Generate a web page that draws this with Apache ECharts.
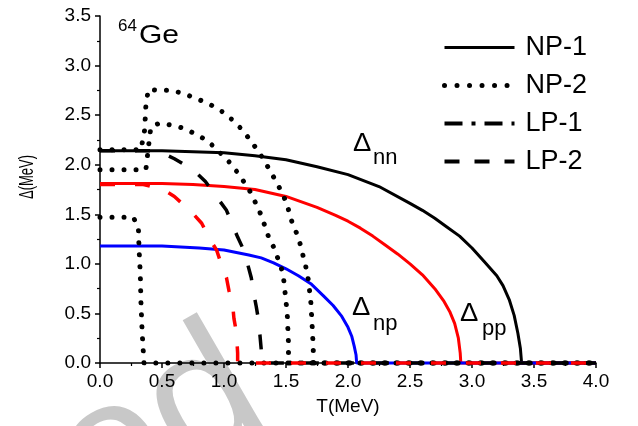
<!DOCTYPE html>
<html>
<head>
<meta charset="utf-8">
<script src="https://cdn.jsdelivr.net/npm/echarts@6/dist/echarts.min.js"></script>
<style>
  html, body { margin: 0; padding: 0; background: #fff; }
  #chart { width: 638px; height: 426px; }
</style>
</head>
<body>
<div id="chart"></div>
<script>
// Pairing gaps of 64Ge versus temperature, each point is [T (MeV), Δ (MeV)]

// NP-1: neutron-neutron, proton-proton and neutron-proton gaps
const np1Nn = [[0,2.14],[0.5,2.14],[1.0,2.12],[1.25,2.09],[1.5,2.05],[1.75,1.98],[2.0,1.90],[2.25,1.78],[2.5,1.61],[2.6,1.54],[2.7,1.46],[2.8,1.37],[2.9,1.28],[3.0,1.16],[3.1,1.02],[3.2,0.88],[3.25,0.78],[3.3,0.64],[3.34,0.48],[3.37,0.30],[3.39,0.15],[3.40,0],[4.0,0]];
const np1Pp = [[0,1.81],[0.5,1.81],[0.75,1.80],[1.0,1.78],[1.25,1.75],[1.5,1.68],[1.75,1.57],[1.9,1.49],[2.0,1.43],[2.1,1.36],[2.2,1.28],[2.3,1.19],[2.4,1.10],[2.5,1.00],[2.6,0.89],[2.7,0.75],[2.77,0.63],[2.82,0.52],[2.86,0.40],[2.89,0.25],[2.905,0.10],[2.91,0],[4.0,0]];
const np1Np = [[0,1.18],[0.5,1.18],[0.8,1.16],[1.0,1.14],[1.2,1.09],[1.3,1.06],[1.4,1.01],[1.5,0.95],[1.6,0.88],[1.7,0.80],[1.8,0.68],[1.88,0.58],[1.95,0.47],[2.0,0.36],[2.03,0.27],[2.05,0.17],[2.065,0.08],[2.07,0],[4.0,0]];

// NP-2: three gap branches
const np2Upper = [[0,2.15],[0.33,2.15],[0.36,2.35],[0.37,2.6],[0.39,2.76],[0.48,2.75],[0.57,2.75],[0.67,2.72],[0.77,2.67],[0.87,2.62],[0.97,2.55],[1.06,2.46],[1.15,2.35],[1.21,2.25],[1.28,2.13],[1.33,2.03],[1.38,1.92],[1.43,1.81],[1.47,1.71],[1.51,1.60],[1.53,1.49],[1.56,1.38],[1.60,1.27],[1.62,1.17],[1.64,1.07],[1.66,0.97],[1.68,0.84],[1.70,0.62],[1.71,0.40],[1.72,0.15],[1.72,0],[4.0,0]];
const np2Middle = [[0,1.95],[0.37,1.95],[0.39,2.17],[0.41,2.38],[0.48,2.42],[0.57,2.40],[0.67,2.37],[0.77,2.31],[0.87,2.24],[0.96,2.13],[1.04,2.03],[1.11,1.92],[1.17,1.81],[1.22,1.71],[1.26,1.60],[1.30,1.49],[1.33,1.38],[1.36,1.27],[1.40,1.17],[1.43,1.07],[1.46,0.97],[1.48,0.86],[1.49,0.74],[1.51,0.50],[1.52,0.20],[1.52,0],[4.0,0]];
const np2Lower = [[0,1.47],[0.27,1.47],[0.31,1.35],[0.315,1.15],[0.325,0.90],[0.33,0.62],[0.34,0.31],[0.35,0.10],[0.355,0],[4.0,0]];

// LP-1 and LP-2
const lp1 = [[0,2.14],[0.45,2.14],[0.5,2.12],[0.6,2.06],[0.75,1.95],[0.85,1.83],[0.95,1.66],[1.02,1.54],[1.07,1.39],[1.11,1.27],[1.17,1.11],[1.19,1.00],[1.22,0.86],[1.24,0.70],[1.26,0.57],[1.28,0.42],[1.29,0.28],[1.30,0.14],[1.31,0],[4.0,0]];
const lp2 = [[0,1.80],[0.35,1.80],[0.51,1.75],[0.6,1.68],[0.74,1.52],[0.82,1.41],[0.89,1.24],[0.94,1.14],[0.98,0.99],[1.02,0.86],[1.04,0.73],[1.07,0.59],[1.08,0.45],[1.10,0.31],[1.11,0.10],[1.11,0],[4.0,0]];

const legendNames = ['NP-1', 'NP-2', 'LP-1', 'LP-2'];

const FONT = 'Liberation Sans, Arial, sans-serif';
const DOTS = { width: 5, type: [0.01, 12], cap: 'round', color: '#000' };

function curve(name, data, lineStyle) {
  return {
    name, type: 'line', data, symbol: 'none', showSymbol: false,
    smooth: false, clip: false, silent: true,
    itemStyle: { color: lineStyle.color },
    lineStyle, emphasis: { disabled: true }
  };
}

const chart = echarts.init(document.getElementById('chart'), null, { renderer: 'canvas' });

const axisCommon = {
  type: 'value',
  axisLine: { show: true, lineStyle: { color: '#000', width: 1.5 } },
  axisTick: { show: true, inside: false, length: 5, lineStyle: { color: '#000', width: 1.5 } },
  minorTick: { show: true, splitNumber: 2, length: 3, lineStyle: { color: '#000', width: 1.2 } },
  splitLine: { show: false },
  axisLabel: { color: '#000', fontFamily: FONT, fontSize: 19, formatter: v => v.toFixed(1) }
};

const hiddenMarker = { opacity: 0 };

chart.setOption({
  animation: false,
  backgroundColor: '#fff',
  grid: { left: 100, right: 42, top: 16, bottom: 63 },
  xAxis: Object.assign({}, axisCommon, {
    min: 0, max: 4, interval: 0.5,
    name: 'T(MeV)', nameLocation: 'middle', nameGap: 34,
    nameTextStyle: { color: '#000', fontFamily: FONT, fontSize: 19 },
    axisLabel: Object.assign({}, axisCommon.axisLabel, { margin: 9 })
  }),
  yAxis: Object.assign({}, axisCommon, {
    min: 0, max: 3.5, interval: 0.5,
    axisLine: { show: true, onZero: false, lineStyle: { color: '#000', width: 1.5 } },
    axisLabel: Object.assign({}, axisCommon.axisLabel, { margin: 9 })
  }),
  legend: {
    orient: 'vertical', left: 437, top: 29,
    itemWidth: 70, itemHeight: 10, itemGap: 11,
    selectedMode: false,
    textStyle: { color: '#000', fontFamily: FONT, fontSize: 27, lineHeight: 26, padding: [0, 0, 0, 6] },
    data: [
      { name: legendNames[0], itemStyle: hiddenMarker, lineStyle: { color: '#000', width: 3, type: 'solid' } },
      { name: legendNames[1], itemStyle: hiddenMarker, lineStyle: { color: '#000', width: 5, type: [0.01, 12.5], cap: 'round' } },
      { name: legendNames[2], itemStyle: hiddenMarker, lineStyle: { color: '#000', width: 4, type: [18, 9, 4, 9], cap: 'butt' } },
      { name: legendNames[3], itemStyle: hiddenMarker, lineStyle: { color: '#000', width: 4, type: [15, 15], cap: 'butt' } }
    ]
  },
  graphic: [
    // watermark, thinned with a white outline
    { type: 'text', z: -10, x: 249, y: 378, rotation: Math.PI / 6,
      style: { text: 'Accepted', x: 0, y: 0, align: 'right', verticalAlign: 'middle',
               textAlign: 'right', textVerticalAlign: 'middle',
               font: '185px ' + FONT, fill: '#c8c8c8', stroke: '#ffffff', lineWidth: 8 } },
    // nucleus label
    { type: 'text', x: 118, y: 26, style: { text: '64', x: 0, y: 0, verticalAlign: 'middle', textVerticalAlign: 'middle', font: '17px ' + FONT, fill: '#000' } },
    { type: 'text', x: 139, y: 36, scaleX: 1.2, style: { text: 'Ge', x: 0, y: 0, verticalAlign: 'middle', textVerticalAlign: 'middle', font: '25px ' + FONT, fill: '#000' } },
    // gap labels
    { type: 'text', x: 353, y: 144, scaleX: 1.1, style: { text: 'Δ', x: 0, y: 0, verticalAlign: 'middle', textVerticalAlign: 'middle', font: '25px ' + FONT, fill: '#000' } },
    { type: 'text', x: 373, y: 158, style: { text: 'nn', x: 0, y: 0, verticalAlign: 'middle', textVerticalAlign: 'middle', font: '22px ' + FONT, fill: '#000' } },
    { type: 'text', x: 352, y: 308, scaleX: 1.1, style: { text: 'Δ', x: 0, y: 0, verticalAlign: 'middle', textVerticalAlign: 'middle', font: '25px ' + FONT, fill: '#000' } },
    { type: 'text', x: 373, y: 324, style: { text: 'np', x: 0, y: 0, verticalAlign: 'middle', textVerticalAlign: 'middle', font: '22px ' + FONT, fill: '#000' } },
    { type: 'text', x: 460, y: 314, scaleX: 1.1, style: { text: 'Δ', x: 0, y: 0, verticalAlign: 'middle', textVerticalAlign: 'middle', font: '25px ' + FONT, fill: '#000' } },
    { type: 'text', x: 482, y: 329, style: { text: 'pp', x: 0, y: 0, verticalAlign: 'middle', textVerticalAlign: 'middle', font: '22px ' + FONT, fill: '#000' } },
    // y-axis title
    { type: 'text', x: 28, y: 177, rotation: Math.PI / 2, scaleY: 1.5,
      style: { text: 'Δ(MeV)', x: 0, y: 0, align: 'center', verticalAlign: 'middle', textAlign: 'center', textVerticalAlign: 'middle', font: '13px ' + FONT, fill: '#000' } }
  ],
  series: [
    curve('NP-1', np1Nn, { color: '#000', width: 3 }),
    curve('NP-1', np1Pp, { color: '#ff0000', width: 3 }),
    curve('NP-1', np1Np, { color: '#0000ff', width: 3 }),
    curve('NP-2', np2Upper, DOTS),
    curve('NP-2', np2Middle, DOTS),
    curve('NP-2', np2Lower, DOTS),
    curve('LP-1', lp1, { color: '#000', width: 3.5, type: [15, 20], cap: 'butt' }),
    curve('LP-2', lp2, { color: '#ff0000', width: 3.5, type: [15, 20], cap: 'butt' })
  ]
});
</script>
</body>
</html>
